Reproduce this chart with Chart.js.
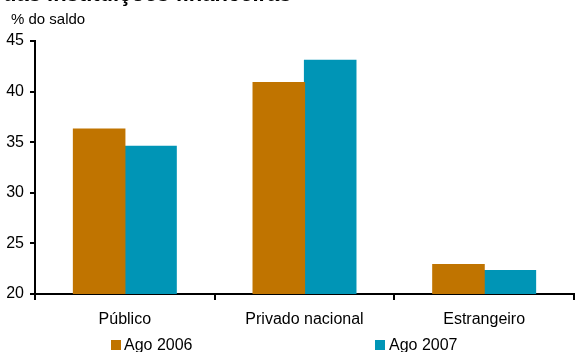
<!DOCTYPE html>
<html>
<head>
<meta charset="utf-8">
<script src="https://cdn.jsdelivr.net/npm/chart.js@4"></script>
<style>
  body { margin: 0; background: #fff; overflow: hidden; }
  #wrap { position: relative; width: 575px; height: 352px; font-family: "Liberation Sans", Arial, sans-serif; color: #000; }
  #chart { position: absolute; left: 0; top: 0; }
  .txt { position: absolute; white-space: nowrap; line-height: normal; }
  #title { left: 3px; top: -19px; font-size: 22px; font-weight: bold; }
  #unit { left: 11px; top: 10px; font-size: 15px; }
  .sw { position: absolute; width: 10px; height: 10px; }
  .lg { font-size: 16px; top: 336px; }
</style>
</head>
<body>
<div id="wrap">
  <canvas id="chart" width="575" height="352"></canvas>
  <div class="txt" id="title">das instituições financeiras</div>
  <div class="txt" id="unit">% do saldo</div>
  <div id="legend"></div>
</div>
<script>
const categories = ["Público", "Privado nacional", "Estrangeiro"];
const seriesNames = ["Ago 2006", "Ago 2007"];
const ago2006 = [36.3, 40.9, 22.9];
const ago2007 = [34.6, 43.1, 22.3];
const colors = ["#c07400", "#0095b6"];

document.addEventListener("DOMContentLoaded", () => {
    const ctx = document.getElementById("chart").getContext("2d");

    new Chart(ctx, {
        type: "bar",
        data: {
            labels: categories,
            datasets: [
                { label: seriesNames[0], data: ago2006, backgroundColor: colors[0] },
                { label: seriesNames[1], data: ago2007, backgroundColor: colors[1] }
            ]
        },
        options: {
            responsive: false,
            animation: false,
            devicePixelRatio: 1,
            layout: { padding: { top: 41, right: 1, left: 0, bottom: 0 } },
            datasets: {
                bar: { categoryPercentage: 0.572, barPercentage: 1.0, borderWidth: 0, inflateAmount: 0.6 }
            },
            plugins: {
                legend: { display: false },
                tooltip: { enabled: false }
            },
            scales: {
                x: {
                    afterFit: s => { s.height = 58; },
                    grid: {
                        offset: true,
                        drawOnChartArea: false,
                        drawTicks: true,
                        tickLength: 6,
                        color: "#000",
                        lineWidth: 2
                    },
                    border: { color: "#000", width: 2 },
                    ticks: {
                        color: "#000",
                        padding: 10,
                        font: { family: "'Liberation Sans', Arial", size: 16 }
                    }
                },
                y: {
                    min: 20,
                    max: 45,
                    afterFit: s => { s.width = 35; },
                    grid: {
                        drawOnChartArea: false,
                        tickLength: 5,
                        color: "#000",
                        lineWidth: 2
                    },
                    border: { color: "#000", width: 2 },
                    ticks: {
                        stepSize: 5,
                        color: "#000",
                        padding: 6,
                        font: { family: "'Liberation Sans', Arial", size: 16 }
                    }
                }
            }
        }
    });

    // legend drawn as html, spaced like the original
    const legend = document.getElementById("legend");
    const lgPos = [{ box: 111, text: 124 }, { box: 375, text: 389 }];
    seriesNames.forEach((name, i) => {
        const sw = document.createElement("div");
        sw.className = "sw";
        sw.style.left = lgPos[i].box + "px";
        sw.style.top = "340px";
        sw.style.background = colors[i];
        legend.appendChild(sw);

        const t = document.createElement("div");
        t.className = "txt lg";
        t.style.left = lgPos[i].text + "px";
        t.textContent = name;
        legend.appendChild(t);
    });
});
</script>
</body>
</html>
